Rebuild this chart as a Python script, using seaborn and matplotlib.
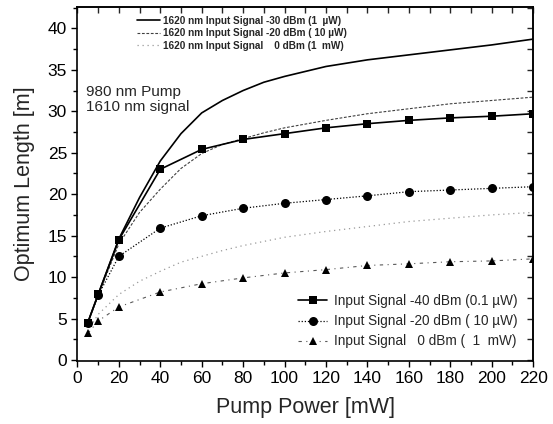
import numpy as np
import pandas as pd
import matplotlib
matplotlib.use("Agg")
import matplotlib.pyplot as plt
import seaborn as sns
from matplotlib.ticker import MultipleLocator

# pump power [mW] for the measured points and for the 1620 nm curves
x_pts = [5, 10, 20, 40, 60, 80, 100, 120, 140, 160, 180, 200, 220]
x_lines = [5, 10, 20, 30, 40, 50, 60, 70, 80, 90, 100, 120, 140, 160, 180, 200, 220]

# 1610 nm signal, optimum length [m]
sq_m40 = [4.5, 7.9, 14.5, 23.0, 25.4, 26.6, 27.3, 28.0, 28.5, 28.9, 29.2, 29.4, 29.7]
ci_m20 = [4.5, 7.8, 12.5, 15.9, 17.4, 18.3, 18.9, 19.35, 19.8, 20.3, 20.5, 20.7, 20.9]
tr_0 = [3.2, 4.7, 6.4, 8.2, 9.2, 9.9, 10.5, 10.9, 11.4, 11.6, 11.85, 11.95, 12.2]

# 1620 nm signal curves
l_m30 = [4.5, 7.9, 14.6, 19.6, 24.0, 27.3, 29.8, 31.3, 32.5, 33.5, 34.2, 35.4, 36.2,
         36.8, 37.4, 38.0, 38.7]
l_m20 = [4.5, 7.8, 14.0, 17.8, 20.6, 23.1, 24.9, 26.0, 26.7, 27.4, 28.0, 28.9, 29.7,
         30.3, 30.9, 31.3, 31.7]
l_0 = [3.5, 5.5, 7.9, 9.5, 10.7, 11.8, 12.5, 13.2, 13.8, 14.3, 14.8, 15.5, 16.1, 16.7,
       17.1, 17.5, 17.8]

labels_1610 = ["Input Signal -40 dBm (0.1 \u00b5W)",
               "Input Signal -20 dBm ( 10 \u00b5W)",
               "Input Signal   0 dBm (  1  mW)"]
labels_1620 = ["1620 nm Input Signal -30 dBm (1  \u00b5W)",
               "1620 nm Input Signal -20 dBm ( 10 \u00b5W)",
               "1620 nm Input Signal    0 dBm (1  mW)"]

sns.set_theme(style="ticks")
plt.rcParams["font.family"] = ["Liberation Sans", "DejaVu Sans"]

fig = plt.figure(figsize=(5.53, 4.24), dpi=100)
ax = fig.add_axes([0.140, 0.149, 0.824, 0.835])

# 1620 nm curves (lines only)
sns.lineplot(x=x_lines, y=l_m30, ax=ax, color="black", lw=1.2, label=labels_1620[0])
sns.lineplot(x=x_lines, y=l_m20, ax=ax, color="0.25", lw=0.8, linestyle=(0, (2.5, 1.5)),
             label=labels_1620[1])
sns.lineplot(x=x_lines, y=l_0, ax=ax, color="0.6", lw=0.9, linestyle=(0, (1, 3)),
             label=labels_1620[2])

# 1610 nm measured series
sns.lineplot(x=x_pts, y=sq_m40, ax=ax, color="black", lw=1.2, marker="s", markersize=6,
             markeredgewidth=0, label=labels_1610[0])
sns.lineplot(x=x_pts, y=ci_m20, ax=ax, color="black", lw=0.9, linestyle=(0, (1, 1.5)),
             marker="o", markersize=6.5, markeredgewidth=0, label=labels_1610[1])
sns.lineplot(x=x_pts, y=tr_0, ax=ax, color="0.35", lw=0.8, linestyle=(0, (3, 4, 1, 4)),
             marker="^", markersize=6, markerfacecolor="black", markeredgewidth=0,
             label=labels_1610[2])

handles, labs = ax.get_legend_handles_labels()
leg1 = ax.legend(handles[:3], labs[:3], loc="upper left", bbox_to_anchor=(0.13, 0.975),
                 frameon=False, borderpad=0, borderaxespad=0, handlelength=2.3,
                 handletextpad=0.3, labelspacing=0.25,
                 prop={"family": ["Liberation Sans Narrow", "Liberation Sans"],
                       "size": 7.2, "weight": "bold"})
ax.add_artist(leg1)
ax.legend(handles[3:], labs[3:], loc="lower left", bbox_to_anchor=(0.485, 0.035),
          frameon=False, borderpad=0, borderaxespad=0, handlelength=2.1,
          handletextpad=0.5, labelspacing=0.45, fontsize=9.8)

ax.text(4, 31.4, "980 nm Pump\n1610 nm signal", fontsize=11, va="center",
        linespacing=1.15)

ax.set_xlim(0, 220)
ax.set_ylim(-0.1, 42.6)
ax.xaxis.set_major_locator(MultipleLocator(20))
ax.xaxis.set_minor_locator(MultipleLocator(10))
ax.yaxis.set_major_locator(MultipleLocator(5))
ax.yaxis.set_minor_locator(MultipleLocator(2.5))
ax.tick_params(which="both", direction="out", colors="black", labelsize=12.5,
               width=1.0)
ax.tick_params(which="major", length=4)
ax.tick_params(which="minor", length=3)
for spine in ax.spines.values():
    spine.set_visible(True)
    spine.set_linewidth(1.2)
    spine.set_color("black")

# inward ticks on top and right via secondary axes
sec_x = ax.secondary_xaxis("top")
sec_x.xaxis.set_major_locator(MultipleLocator(10))
sec_x.tick_params(direction="in", length=4, width=1.0, labeltop=False)
sec_x.set_xticklabels([])
sec_y = ax.secondary_yaxis("right")
sec_y.yaxis.set_major_locator(MultipleLocator(2.5))
sec_y.tick_params(direction="in", length=4, width=1.0, labelright=False)
sec_y.set_yticklabels([])

ax.set_xlabel("Pump Power [mW]", fontsize=15.5, labelpad=8)
ax.set_ylabel("Optimum Length [m]", fontsize=15.5, labelpad=9)

fig.savefig("out.png", dpi=100)
